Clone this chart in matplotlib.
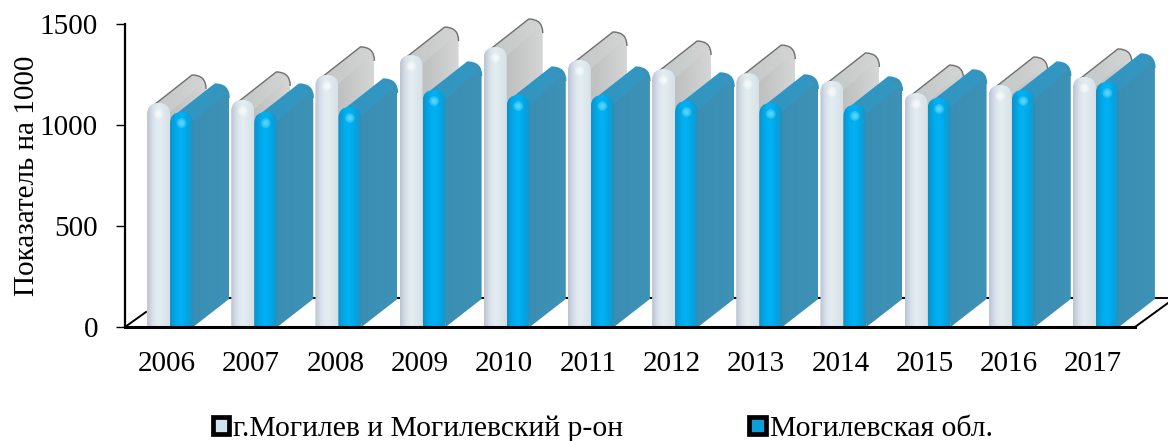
"""
plot.py: pseudo-3D column chart, Mogilev city and district against the region.
"""

import matplotlib
matplotlib.use('Agg')
import matplotlib.pyplot as plt
import numpy as np
from matplotlib.colors import LinearSegmentedColormap
from matplotlib.patches import Patch, PathPatch
from matplotlib.path import Path

plt.rcParams['font.family'] = ['Liberation Serif', 'DejaVu Serif']

years = ['2006', '2007', '2008', '2009', '2010', '2011',
         '2012', '2013', '2014', '2015', '2016', '2017']
city_values = [1109, 1124, 1248, 1346, 1386, 1322, 1277, 1257, 1218, 1158, 1198, 1238]
region_values = [1064, 1064, 1089, 1173, 1148, 1148, 1119, 1109, 1099, 1134, 1173, 1213]
y_ticks = [0, 500, 1000, 1500]
city_label = 'г.Могилев и Могилевский р-он'
region_label = 'Могилевская обл.'

WIDTH, HEIGHT = 1168, 441
LEFT, RIGHT, TOP, BOTTOM = 125, 1135, 24, 327
PX_X = len(years) / (RIGHT - LEFT)
PX_Y = 1500 / (BOTTOM - TOP)
BAR_W = 23 * PX_X
DX = 36 * PX_X
DY = 28 * PX_Y
DOME = 11 * PX_Y

CITY_STYLE = {
    'front': ['#bcc3d2', '#d8e1ea', '#e4eef1', '#dde8ec', '#d6e0e8'],
    'side': ['#b6baba', '#c2c3c3', '#d6d6d6'],
    'band': '#d4d8d8',
    'ridge': '#6f6f6f',
    'glow': '#ffffff',
}
REGION_STYLE = {
    'front': ['#0d90c8', '#00aaea', '#00b2f4', '#00a6e4', '#2a8fbb'],
    'side': ['#3a8cb1', '#3b8fb4', '#3d92b6'],
    'band': '#2a9fd2',
    'ridge': '#2a97c8',
    'glow': '#7fe6ff',
}

layer = [2]


def next_layer():
    layer[0] += 1
    return layer[0]


def gradient(ax, colors, extent, clip_path):
    """Horizontal gradient image clipped to a path given in data units."""
    cmap = LinearSegmentedColormap.from_list('grad', colors)
    img = ax.imshow(np.linspace(0, 1, 64).reshape(1, -1), cmap=cmap, aspect='auto',
                    extent=extent, interpolation='bilinear', zorder=next_layer())
    clip = PathPatch(clip_path, transform=ax.transData, facecolor='none', edgecolor='none')
    ax.add_patch(clip)
    img.set_clip_path(clip)
    # columns stick out of the axes box on the top and right
    img.set_clip_box(ax.figure.bbox)


def draw_column(ax, x0, value, style):
    """Draw the body and the front of one column."""
    x1 = x0 + BAR_W
    xm = x0 + BAR_W / 2
    top = value + DY
    back = x1 + DX
    ridge_start = (x0 + 3 * PX_X, value - 5 * PX_Y)
    ridge_end = (x0 + 45 * PX_X, top)
    shoulder = (back, top - 14 * PX_Y)

    # Body seen behind the front face, rounded only at the back right corner
    body = Path([ridge_start, ridge_end, (back, top), shoulder, (back, DY), (x1, 0), ridge_start],
                [Path.MOVETO, Path.LINETO, Path.CURVE3, Path.CURVE3,
                 Path.LINETO, Path.LINETO, Path.CLOSEPOLY])
    gradient(ax, style['side'], (x0, back, 0, top), body)

    # Lighter band along the top
    band = Path([ridge_start, ridge_end, (back - 4 * PX_X, top - 9 * PX_Y),
                 (x1, value - 9 * PX_Y), ridge_start])
    ax.add_patch(PathPatch(band, facecolor=style['band'], edgecolor='none', alpha=0.45,
                           zorder=next_layer(), clip_on=False))

    ridge = Path([ridge_start, ridge_end, (back, top), shoulder],
                 [Path.MOVETO, Path.LINETO, Path.CURVE3, Path.CURVE3])
    ax.add_patch(PathPatch(ridge, facecolor='none', edgecolor=style['ridge'], lw=1,
                           zorder=next_layer(), clip_on=False))

    # Front face with a domed top
    front = Path([(x0, 0), (x0, value - DOME), (x0, value), (xm, value),
                  (x1, value), (x1, value - DOME), (x1, 0), (x0, 0)],
                 [Path.MOVETO, Path.LINETO, Path.CURVE3, Path.CURVE3, Path.CURVE3, Path.CURVE3,
                  Path.LINETO, Path.CLOSEPOLY])
    gradient(ax, style['front'], (x0, x1, 0, value), front)

    # Glow near the top of the front face
    y_glow = value - 11 * PX_Y
    ax.scatter([xm] * 3, [y_glow] * 3, s=[50, 25, 10], color=style['glow'], alpha=0.3,
               linewidths=0, zorder=next_layer())


fig = plt.figure(figsize=(WIDTH / 100, HEIGHT / 100), dpi=100)
ax = fig.add_axes([LEFT / WIDTH, 1 - BOTTOM / HEIGHT,
                   (RIGHT - LEFT) / WIDTH, (BOTTOM - TOP) / HEIGHT])
ax.patch.set_alpha(0)

xr = len(years) - 0.5

# Floor of the chart goes first, the columns stand on it
floor = dict(color='black', lw=1.4, clip_on=False, zorder=1)
ax.plot([-0.5, -0.5 + 21 * PX_X], [0, 15 * PX_Y], **floor)
ax.plot([xr, xr + 33 * PX_X], [0, 24 * PX_Y], **floor)
ax.plot([-0.5 + 100 * PX_X, xr + 33 * PX_X], [DY + 1 * PX_Y, DY + 1 * PX_Y], **floor)

for i, (city, region) in enumerate(zip(city_values, region_values)):
    start = i - BAR_W + 3 * PX_X
    draw_column(ax, start, city, CITY_STYLE)
    draw_column(ax, start + BAR_W, region, REGION_STYLE)

ax.set_xlim(-0.5, len(years) - 0.5)
ax.set_ylim(0, 1500)
ax.set_xticks(range(len(years)), years)
ax.set_yticks(y_ticks)
ax.tick_params(axis='x', length=0, pad=17, labelsize=21)
ax.tick_params(axis='y', length=6.5, width=1, pad=13, labelsize=21)
ax.set_ylabel('Показатель на 1000', size=21, labelpad=0)

for name in ('top', 'right'):
    ax.spines[name].set_visible(False)
ax.spines['left'].set_linewidth(1.6)
ax.spines['left'].set_zorder(2000)
ax.spines['bottom'].set_linewidth(2.2)
ax.spines['bottom'].set_zorder(2000)

handles = [Patch(facecolor='#cfe4ee', edgecolor='black', lw=3.4, label=city_label),
           Patch(facecolor='#0c9ed8', edgecolor='black', lw=3.4, label=region_label)]
fig.legend(handles=handles, ncol=2, frameon=False, fontsize=21.3,
           loc='lower left', bbox_to_anchor=(213 / WIDTH, -1 / HEIGHT),
           handlelength=0.55, handleheight=0.5, handletextpad=0.14,
           columnspacing=4.25, borderpad=0, borderaxespad=0)

fig.savefig('out.png', dpi=100)
